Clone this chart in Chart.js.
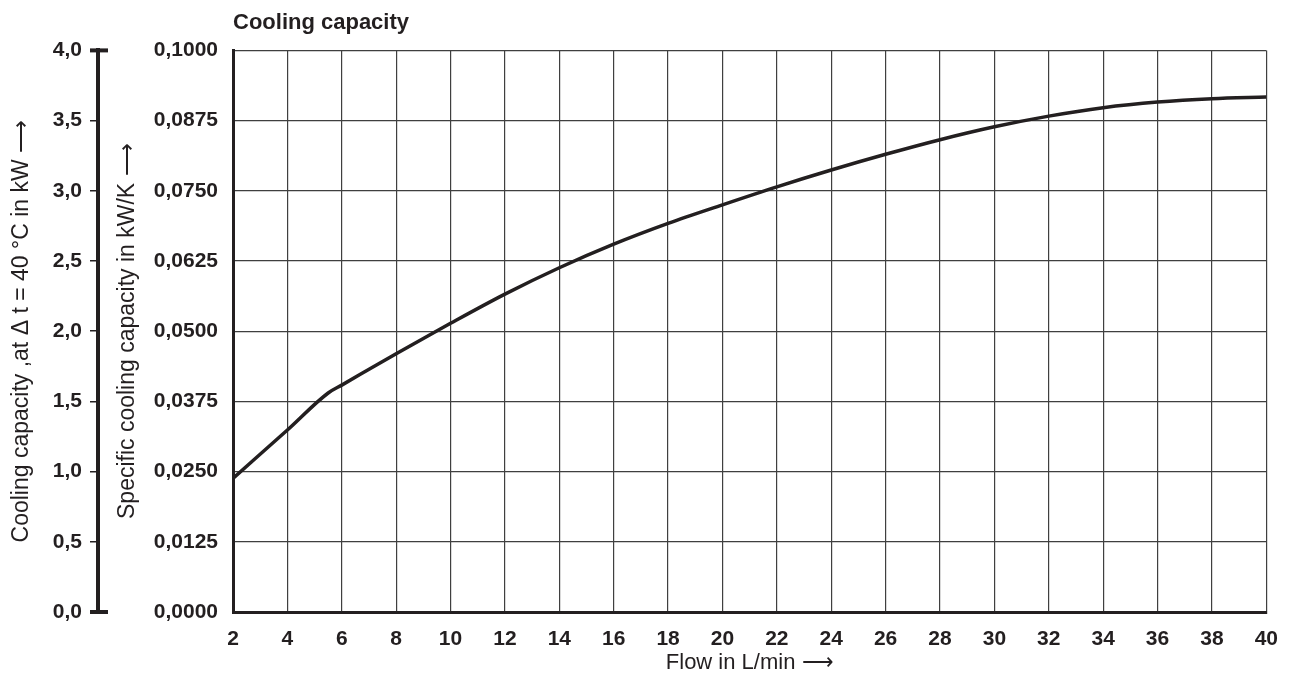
<!DOCTYPE html>
<html>
<head>
<meta charset="utf-8">
<title>Cooling capacity</title>
<script src="https://cdn.jsdelivr.net/npm/chart.js@4"></script>
<style>
    html, body { margin: 0; padding: 0; background: #fff; }
    #wrap { width: 1293px; height: 680px; position: relative; }
</style>
</head>
<body>
<div id="wrap"><canvas id="cooling-chart"></canvas></div>
<script>
// =======================
// Data
// =======================
const flow = [2, 4, 5.5, 6, 8, 10, 12, 14, 16, 18, 20, 22, 24, 26, 28, 30, 32, 34, 36, 38, 40];
const specificCapacity = [
    0.0238, 0.0324, 0.0390, 0.0404, 0.0460, 0.0514, 0.0566, 0.0613, 0.0655, 0.0692, 0.0725,
    0.0757, 0.0787, 0.0815, 0.0841, 0.0864, 0.0883, 0.0898, 0.0908, 0.0914, 0.0917
];
const specificTicks = ['0,0000', '0,0125', '0,0250', '0,0375', '0,0500', '0,0625', '0,0750', '0,0875', '0,1000'];
const capacityTicks = ['0,0', '0,5', '1,0', '1,5', '2,0', '2,5', '3,0', '3,5', '4,0'];

const ink = '#231f20';
const gridInk = '#3f3f3f';
const fontFamily = '"Liberation Sans", Arial, sans-serif';

// thick end caps on the outer kW axis
const endCaps = {
    id: 'endCaps',
    afterDraw(chart) {
        const s = chart.scales.cap;
        const ctx = chart.ctx;
        ctx.save();
        ctx.strokeStyle = ink;
        ctx.lineWidth = 4;
        [s.min, s.max].forEach(v => {
            const y = s.getPixelForValue(v);
            ctx.beginPath();
            ctx.moveTo(s.right - 8, y);
            ctx.lineTo(s.right + 10, y);
            ctx.stroke();
        });
        ctx.restore();
    }
};

const coolingCanvas = document.querySelector('#cooling-chart');
let coolingChart = new Chart(coolingCanvas, {
    type: 'line',
    data: {
        datasets: [{
            data: flow.map((f, i) => ({ x: f, y: specificCapacity[i] })),
            yAxisID: 'y',
            borderColor: ink,
            borderWidth: 3.5,
            pointRadius: 0,
            cubicInterpolationMode: 'monotone',
            fill: false
        }]
    },
    options: {
        responsive: true,
        maintainAspectRatio: false,
        animation: false,
        layout: {
            padding: { left: 0, right: 26, top: 0, bottom: 0 }
        },
        scales: {
            x: {
                type: 'linear',
                min: 2,
                max: 40,
                afterFit: s => { s.height = 68; },
                ticks: {
                    stepSize: 2,
                    padding: 15,
                    color: ink,
                    font: { family: fontFamily, size: 21, weight: 'bold' }
                },
                grid: { color: gridInk, lineWidth: 1.2, drawTicks: false },
                border: { color: ink, width: 3 },
                title: {
                    display: true,
                    text: 'Flow in L/min \u27F6',
                    color: ink,
                    font: { family: fontFamily, size: 22 },
                    padding: { top: 0, bottom: 4 }
                }
            },
            y: {
                type: 'linear',
                position: 'left',
                weight: 0,
                min: 0,
                max: 0.1,
                afterFit: s => { s.width = 135; },
                ticks: {
                    stepSize: 0.0125,
                    padding: 15,
                    color: ink,
                    font: { family: fontFamily, size: 21, weight: 'bold' },
                    callback: (v, i) => specificTicks[i]
                },
                grid: { color: gridInk, lineWidth: 1.2, drawTicks: false },
                border: { color: ink, width: 3 },
                title: {
                    display: true,
                    text: 'Specific cooling capacity in kW/K \u27F6',
                    color: ink,
                    font: { family: fontFamily, size: 23 },
                    padding: { top: 16, bottom: 0 }
                }
            },
            cap: {
                type: 'linear',
                position: 'left',
                weight: 1,
                min: 0,
                max: 4,
                afterFit: s => { s.width = 98; },
                ticks: {
                    stepSize: 0.5,
                    padding: 8,
                    color: ink,
                    font: { family: fontFamily, size: 21, weight: 'bold' },
                    callback: (v, i) => capacityTicks[i]
                },
                grid: { drawOnChartArea: false, color: ink, lineWidth: 1.5, tickLength: 8 },
                border: { color: ink, width: 4 },
                title: {
                    display: true,
                    text: 'Cooling capacity ,at \u0394 t = 40 \u00b0C in kW \u27F6',
                    color: ink,
                    font: { family: fontFamily, size: 23 },
                    padding: { top: 8, bottom: 0 }
                }
            }
        },
        plugins: {
            legend: { display: false },
            tooltip: { enabled: false },
            title: {
                display: true,
                text: 'Cooling capacity',
                align: 'start',
                fullSize: false,
                color: ink,
                font: { family: fontFamily, size: 22, weight: 'bold' },
                padding: { top: 10, bottom: 14 }
            }
        }
    },
    plugins: [endCaps]
});
</script>
</body>
</html>
